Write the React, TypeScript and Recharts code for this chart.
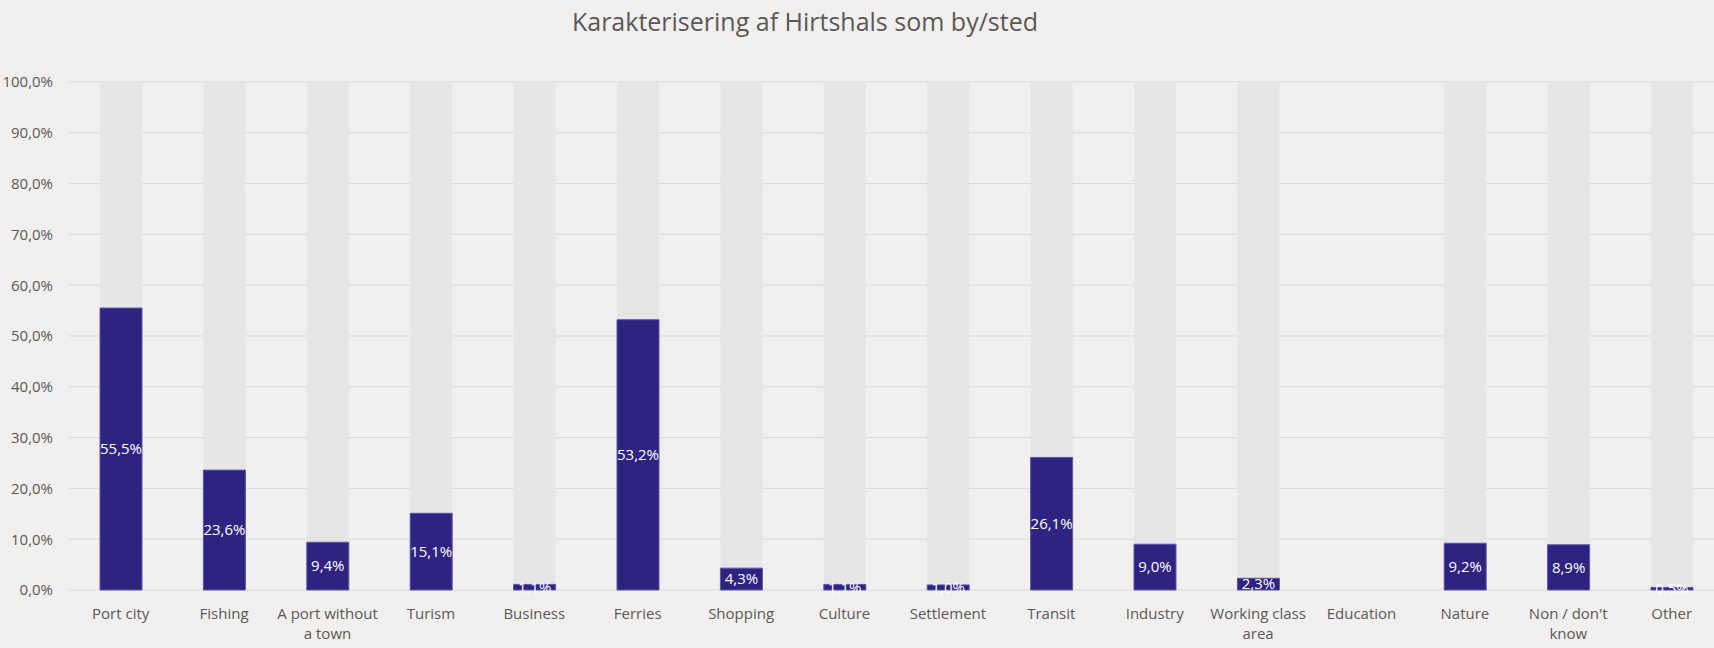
import React from "react";
import { BarChart, Bar, XAxis, YAxis, CartesianGrid, LabelList } from "recharts";

// categories (line breaks as in the original axis)
const categories = [
  "Port city",
  "Fishing",
  "A port without\na town",
  "Turism",
  "Business",
  "Ferries",
  "Shopping",
  "Culture",
  "Settlement",
  "Transit",
  "Industry",
  "Working class\narea",
  "Education",
  "Nature",
  "Non / don't\nknow",
  "Other",
];

// share of answers, %
const shares = [55.5, 23.6, 9.4, 15.1, 1.1, 53.2, 4.3, 1.1, 1.0, 26.1, 9.0, 2.3, 0.0, 9.2, 8.9, 0.5];

const yTicks = [0, 10, 20, 30, 40, 50, 60, 70, 80, 90, 100];

const data = categories.map((name, i) => ({ name, value: shares[i] }));

const pct = (v: any) => Number(v).toFixed(1).replace(".", ",") + "%";

const TEXT = "#595959";

const CategoryTick = ({ x, y, payload }: any) => {
  const lines = String(payload.value).split("\n");
  return (
    <text x={x} y={y + 29} textAnchor="middle" fill={TEXT} fontSize={15}>
      {lines.map((line, i) => (
        <tspan key={i} x={x} dy={i === 0 ? 0 : 20}>
          {line}
        </tspan>
      ))}
    </text>
  );
};

export default function App() {
  return (
    <div
      style={{
        position: "absolute",
        left: 0,
        top: 0,
        width: 1714,
        height: 648,
        overflow: "hidden",
        background: "#F1F0EE",
        fontFamily: "'Open Sans', sans-serif",
      }}
    >
      <div
        style={{
          position: "absolute",
          left: 0,
          top: 9,
          width: 1610,
          textAlign: "center",
          fontSize: 25,
          lineHeight: "25px",
          color: TEXT,
        }}
      >
        Karakterisering af Hirtshals som by/sted
      </div>
      <BarChart
        width={1730}
        height={648}
        data={data}
        margin={{ top: 82, right: 6.6, left: 0, bottom: 0 }}
        style={{ position: "absolute", left: 0, top: 0 }}
      >
        <CartesianGrid vertical={false} stroke="#D9D9D9" />
        <XAxis
          dataKey="name"
          height={58}
          axisLine={false}
          tickLine={false}
          tickSize={0}
          tickMargin={0}
          interval={0}
          tick={<CategoryTick />}
        />
        <YAxis
          width={69}
          domain={[0, 100]}
          ticks={yTicks}
          axisLine={false}
          tickLine={false}
          tickSize={0}
          tickMargin={16}
          tickFormatter={pct}
          tick={{ fill: TEXT, fontSize: 15 }}
        />
        <Bar
          dataKey="value"
          barSize={42}
          fill="#2E2380"
          stroke="#5A58A6"
          strokeWidth={1}
          background={{ fill: "#E6E6E6", stroke: "none" }}
          isAnimationActive={false}
        >
          <LabelList dataKey="value" position="center" formatter={pct} fill="#FFFFFF" fontSize={15} />
        </Bar>
      </BarChart>
    </div>
  );
}
